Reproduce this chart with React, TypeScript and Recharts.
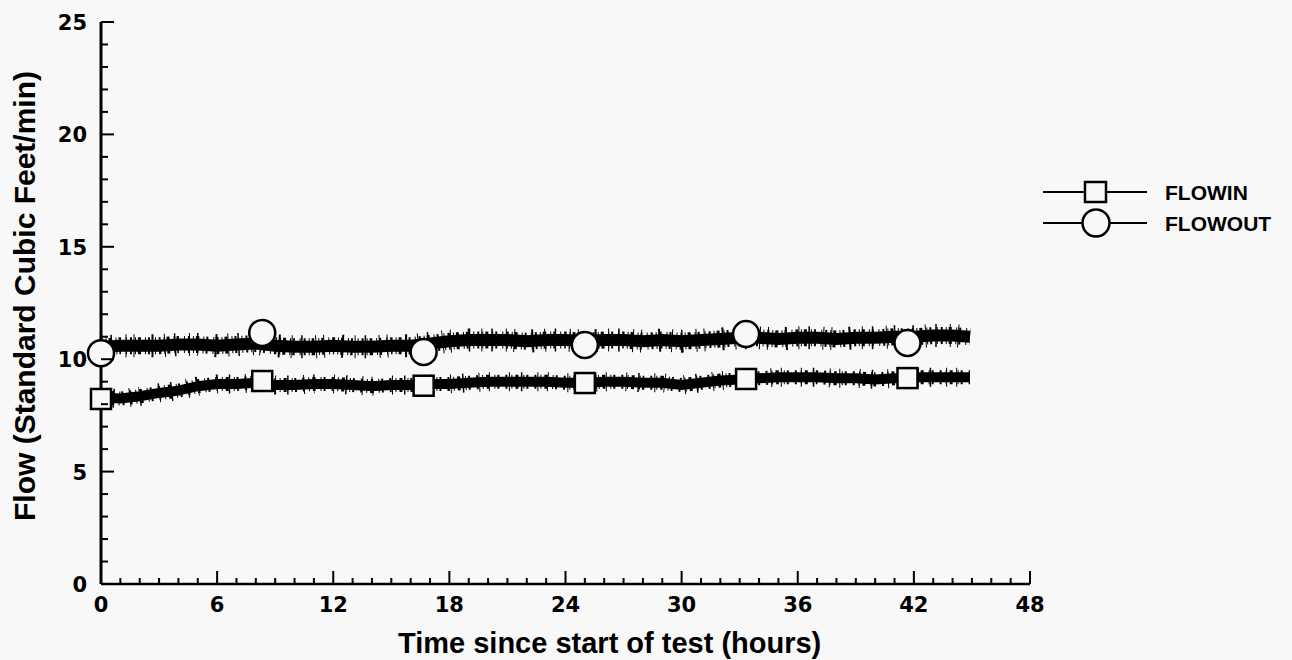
import React from "react";
import { ComposedChart, Line, XAxis, YAxis } from "recharts";

// hours since start, band centre
const hours = [
  0, 1, 2, 3, 4, 5, 6, 7, 8, 9, 10, 11, 12, 13, 14, 15, 16, 17, 18, 19, 20, 21, 22,
  23, 24, 25, 26, 27, 28, 29, 30, 31, 32, 33, 34, 35, 36, 37, 38, 39, 40, 41, 42, 43, 44, 44.9,
];
const flowIn = [
  8.3, 8.25, 8.35, 8.5, 8.6, 8.8, 8.9, 8.9, 8.95, 8.85, 8.85, 8.9, 8.9, 8.85, 8.8, 8.85,
  8.85, 8.9, 8.9, 8.95, 9.0, 9.0, 9.0, 9.0, 8.95, 8.95, 9.0, 9.0, 8.95, 8.95, 8.85, 8.95,
  9.05, 9.1, 9.15, 9.2, 9.2, 9.2, 9.15, 9.15, 9.1, 9.15, 9.2, 9.2, 9.2, 9.2,
];
const flowOut = [
  10.55, 10.6, 10.6, 10.6, 10.65, 10.65, 10.6, 10.65, 10.7, 10.6, 10.55, 10.55, 10.6, 10.55,
  10.55, 10.6, 10.6, 10.7, 10.8, 10.85, 10.85, 10.85, 10.8, 10.85, 10.85, 10.8, 10.85, 10.85,
  10.8, 10.85, 10.8, 10.85, 10.9, 10.95, 10.95, 10.9, 10.95, 10.95, 10.9, 10.95, 10.95, 11.0,
  11.0, 11.05, 11.05, 11.0,
];

// symbol positions (every 500 min)
const markerHours = [0, 8.33, 16.67, 25, 33.33, 41.67];
const flowInMarks = [8.23, 9.03, 8.82, 8.94, 9.12, 9.16];
const flowOutMarks = [10.27, 11.17, 10.32, 10.63, 11.12, 10.72];

const xTicks = Array.from({ length: 49 }, (_, i) => i);
const yTicks = Array.from({ length: 26 }, (_, i) => i);

const inData = hours.map((t, i) => ({ t, v: flowIn[i] }));
const outData = hours.map((t, i) => ({ t, v: flowOut[i] }));
const inMarks = markerHours.map((t, i) => ({ t, v: flowInMarks[i] }));
const outMarks = markerHours.map((t, i) => ({ t, v: flowOutMarks[i] }));

const tickFont = { fontFamily: "DejaVu Sans", fontWeight: 700, fontSize: 21 };

const YTick = (p: any) => {
  const v = p.payload.value;
  const major = v % 5 === 0;
  return (
    <g>
      <line x1={p.x} x2={p.x + (major ? 13 : 7)} y1={p.y} y2={p.y} stroke="#000" strokeWidth={2} />
      {major && (
        <text x={p.x - 14} y={p.y + 8} textAnchor="end" fill="#000" {...tickFont}>
          {v}
        </text>
      )}
    </g>
  );
};

const XTick = (p: any) => {
  const v = p.payload.value;
  const major = v % 6 === 0;
  return (
    <g>
      <line x1={p.x} x2={p.x} y1={p.y} y2={p.y - (major ? 13 : 6)} stroke="#000" strokeWidth={2} />
      {major && (
        <text x={p.x} y={p.y + 28} textAnchor="middle" fill="#000" {...tickFont}>
          {v}
        </text>
      )}
    </g>
  );
};

const Square = (p: any) => (
  <rect key={p.key} x={p.cx - 10} y={p.cy - 10} width={20} height={20} fill="#f8f8f8" stroke="#000" strokeWidth={2.5} />
);
const Circle = (p: any) => (
  <circle key={p.key} cx={p.cx} cy={p.cy} r={13} fill="#f8f8f8" stroke="#000" strokeWidth={2.5} />
);

export default function App() {
  return (
    <div style={{ position: "relative", width: 1292, height: 660, background: "#f8f8f8" }}>
      <style>{"body{margin:0}"}</style>
      <ComposedChart width={1292} height={660} margin={{ top: 22, right: 262, bottom: 36, left: 41 }}>
        <XAxis
          type="number"
          dataKey="t"
          domain={[0, 48]}
          ticks={xTicks}
          interval={0}
          tickSize={0}
          tickMargin={0}
          tickLine={false}
          tick={<XTick />}
          height={40}
          axisLine={{ stroke: "#000", strokeWidth: 2.5 }}
        />
        <YAxis
          type="number"
          domain={[0, 25]}
          ticks={yTicks}
          interval={0}
          tickSize={0}
          tickMargin={0}
          tickLine={false}
          tick={<YTick />}
          width={60}
          axisLine={{ stroke: "#000", strokeWidth: 3 }}
        />
        {/* noisy traces: solid core plus two irregular comb strokes for the spikes */}
        <Line data={outData} dataKey="v" stroke="#000" strokeWidth={12} dot={false} isAnimationActive={false} strokeLinecap="butt" />
        <Line data={outData} dataKey="v" stroke="#000" strokeWidth={17} strokeDasharray="2 3 1 2 3 4 1 2 2 5 1 3" dot={false} isAnimationActive={false} strokeLinecap="butt" />
        <Line data={outData} dataKey="v" stroke="#000" strokeWidth={23} strokeDasharray="1 9 1.5 13 1 7 1 17 2 11" dot={false} isAnimationActive={false} strokeLinecap="butt" />
        <Line data={inData} dataKey="v" stroke="#000" strokeWidth={10} dot={false} isAnimationActive={false} strokeLinecap="butt" />
        <Line data={inData} dataKey="v" stroke="#000" strokeWidth={14} strokeDasharray="2 4 1 3 3 5 1 2 2 6" dot={false} isAnimationActive={false} strokeLinecap="butt" />
        <Line data={inData} dataKey="v" stroke="#000" strokeWidth={19} strokeDasharray="1 11 1.5 15 1 9 1 19" dot={false} isAnimationActive={false} strokeLinecap="butt" />
        <Line data={inMarks} dataKey="v" stroke="none" dot={<Square />} isAnimationActive={false} />
        <Line data={outMarks} dataKey="v" stroke="none" dot={<Circle />} isAnimationActive={false} />
      </ComposedChart>
      <svg width={1292} height={660} style={{ position: "absolute", left: 0, top: 0, pointerEvents: "none" }}>
        <text
          transform="translate(35 296) rotate(-90)"
          textAnchor="middle"
          fontFamily="Liberation Sans"
          fontWeight={700}
          fontSize={30}
          fill="#000"
        >
          Flow (Standard Cubic Feet/min)
        </text>
        <text x={398} y={653} fontFamily="Liberation Sans" fontWeight={700} fontSize={29} fill="#000">
          Time since start of test (hours)
        </text>
        <g stroke="#000" strokeWidth={2}>
          <line x1={1043} x2={1147} y1={192} y2={192} />
          <rect x={1085} y={182} width={21} height={20} fill="#f8f8f8" strokeWidth={2.5} />
          <line x1={1043} x2={1147} y1={223} y2={223} />
          <circle cx={1096} cy={223} r={13.5} fill="#f8f8f8" strokeWidth={2.5} />
        </g>
        <text x={1165} y={200} fontFamily="Liberation Sans" fontWeight={700} fontSize={21} fill="#000">
          FLOWIN
        </text>
        <text x={1165} y={231} fontFamily="Liberation Sans" fontWeight={700} fontSize={21} fill="#000">
          FLOWOUT
        </text>
      </svg>
    </div>
  );
}
